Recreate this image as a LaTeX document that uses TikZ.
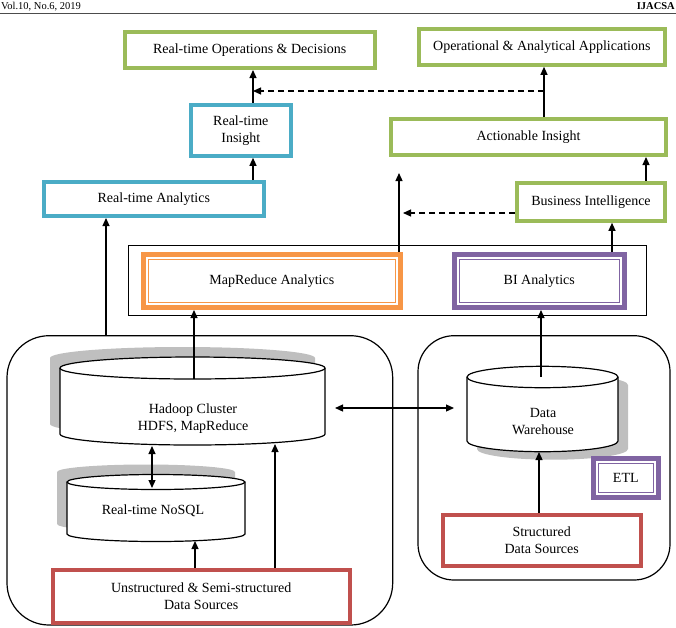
\documentclass[tikz,border=0pt]{standalone}
\usepackage{fontspec}
\setmainfont{Liberation Serif}
\usetikzlibrary{arrows.meta}

\definecolor{offgreen}{HTML}{9BBB59}
\definecolor{offblue}{HTML}{4BACC6}
\definecolor{offorange}{HTML}{F79646}
\definecolor{offpurple}{HTML}{8064A2}
\definecolor{offred}{HTML}{C0504D}
\definecolor{shadowgray}{HTML}{BFBFBF}

% database drum: x1, x2, top y, bottom y, ellipse radius, shadow shift
\newcommand{\dbcyl}[6]{%
  \pgfmathsetmacro{\rx}{(#2-#1)/2}
  \fill[shadowgray, shift={#6}] (#1,#3) arc[start angle=180,end angle=360,x radius=\rx,y radius=#5]
    -- (#2,#4) arc[start angle=0,end angle=180,x radius=\rx,y radius=#5] -- cycle;
  \draw[dbline, fill=white] (#1,#3) arc[start angle=180,end angle=360,x radius=\rx,y radius=#5]
    -- (#2,#4) arc[start angle=0,end angle=180,x radius=\rx,y radius=#5] -- cycle;
  \draw[dbline] (#1,#3) arc[start angle=180,end angle=0,x radius=\rx,y radius=#5];
}

\begin{document}
\begin{tikzpicture}[x=1pt,y=-1pt,
  txt/.style={font=\fontsize{14pt}{17pt}\selectfont, align=center, inner sep=0pt},
  cbox/.style={draw=#1, fill=white, line width=4pt, txt},
  dbox/.style={draw=#1, fill=white, line width=5pt, txt,
    path picture={\draw[#1, line width=1.3pt]
      ([shift={(5pt,-5pt)}]path picture bounding box.north west) rectangle
      ([shift={(-5pt,5pt)}]path picture bounding box.south east);}},
  frame/.style={draw, line width=1.2pt},
  dbline/.style={line width=1.2pt},
  arr/.style={line width=1.2pt, -{Triangle[length=8pt,width=7pt]}},
  darr/.style={line width=1.2pt, {Triangle[length=8pt,width=7pt]}-{Triangle[length=8pt,width=7pt]}},
  dasharr/.style={arr, dash pattern=on 6pt off 4pt}]

\useasboundingbox (0,0) rectangle (676,627);
\clip (0,0) rectangle (676,627);

% page header
\node[anchor=base west, inner sep=0pt, font=\fontsize{10.5pt}{12pt}\selectfont] (hdr) at (1,9) {Vol.10, No.6, 2019};
\node[anchor=base east, inner sep=0pt, font=\bfseries\fontsize{10.5pt}{12pt}\selectfont] (logo) at (675,9) {IJACSA};
\draw[gray!60!black, line width=1.5pt] (0,13.5) -- (676,13.5);

% top layer
\node[cbox=offgreen, minimum width=250pt, minimum height=36pt] (rtod) at (249.7,50) {Real-time Operations \& Decisions};
\node[cbox=offgreen, minimum width=246pt, minimum height=36pt] (oaa) at (541.8,46.8) {Operational \& Analytical Applications};
\node[cbox=offblue, minimum width=100pt, minimum height=51pt] (rti) at (240.8,130.3) {Real-time\\Insight};
\node[cbox=offgreen, minimum width=275pt, minimum height=36pt] (ai) at (528.5,137) {Actionable Insight};
\node[cbox=offblue, minimum width=220pt, minimum height=34pt] (rta) at (153.8,199) {Real-time Analytics};
\node[cbox=offgreen, minimum width=148pt, minimum height=38pt] (bi) at (591,201.8) {Business Intelligence};

% analytics layer
\node[frame, minimum width=518pt, minimum height=70pt] (anl) at (387.3,280.3) {};
\node[dbox=offorange, minimum width=257pt, minimum height=53pt] (mra) at (271.8,281) {MapReduce Analytics};
\node[dbox=offpurple, minimum width=170pt, minimum height=53pt] (bia) at (539.3,281) {BI Analytics};

% data layer
\node[frame, rounded corners=42pt, minimum width=385.7pt, minimum height=289.3pt] (bigdata) at (199.85,480.35) {};
\node[frame, rounded corners=36pt, minimum width=252pt, minimum height=244.3pt] (sql) at (544,457.85) {};

\dbcyl{60}{325}{368}{434}{11}{(-10,-10)}
\dbcyl{67}{245}{482}{534}{7.5}{(-10,-10)}
\dbcyl{467}{618}{377}{441}{10.7}{(10,8)}
\node[txt] (hdp) at (193,419) {Hadoop Cluster\\HDFS, MapReduce};
\node[txt] (nsql) at (153,511) {Real-time NoSQL};
\node[txt] (dwh) at (543,422) {Data\\Warehouse};

\node[dbox=offpurple, minimum width=65pt, minimum height=39pt] (etl) at (625.8,478) {ETL};
\node[cbox=offred, minimum width=297pt, minimum height=53pt] (uds) at (201.2,596.5) {Unstructured \& Semi-structured\\Data Sources};
\node[cbox=offred, minimum width=198pt, minimum height=50.7pt] (sds) at (541.7,540.3) {Structured\\Data Sources};

% connector ends on the drums
\coordinate (hdpT) at (194,379);
\coordinate (hdpB) at (275,444);
\coordinate (hdpB2) at (152,446);
\coordinate (hdpR) at (335,408);
\coordinate (nsqlT) at (152,488);
\coordinate (nsqlB) at (195,541);
\coordinate (dwhL) at (454,408);
\coordinate (dwhT) at (541,377);
\coordinate (dwhB) at (539,452);
\coordinate (mrOut) at (399,173);
\coordinate (dashR) at (544,91);
\coordinate (dashL) at (253,91);
\coordinate (biOut) at (403,213);

% connectors
\draw[arr] (uds.north -| nsqlB) -- (nsqlB);
\draw[arr] (uds.north -| hdpB) -- (hdpB);
\draw[darr] (hdpB2) -- (nsqlT);
\draw[darr] (hdpR) -- (dwhL);
\draw[arr] (sds.north -| dwhB) -- (dwhB);
\draw[arr] (hdpT) -- (mra.south -| hdpT);
\draw[arr] (dwhT) -- (bia.south -| dwhT);
\draw[arr] (bigdata.north -| 106,0) -- (rta.south -| 106,0);
\draw[arr] (mra.north -| mrOut) -- (mrOut);
\draw[arr] (bia.north -| 612,0) -- (bi.south -| 612,0);
\draw[dasharr] (bi.west |- biOut) -- (biOut);
\draw[arr] (bi.north -| 646,0) -- (ai.south -| 646,0);
\draw[arr] (ai.north -| dashR) -- (oaa.south -| dashR);
\draw[dasharr] (dashR) -- (dashL);
\draw[arr] (rta.north -| dashL) -- (rti.south -| dashL);
\draw[arr] (rti.north -| dashL) -- (rtod.south -| dashL);

\end{tikzpicture}
\end{document}
